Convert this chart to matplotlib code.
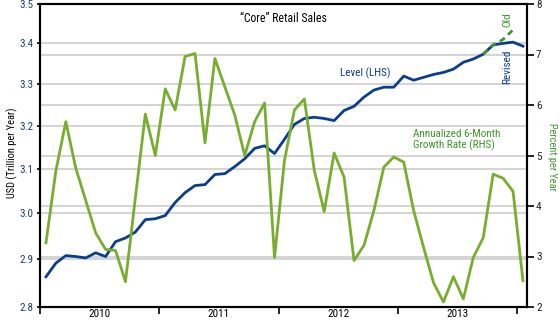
import numpy as np
import matplotlib
matplotlib.use("Agg")
import matplotlib.pyplot as plt
from matplotlib import font_manager
from matplotlib.ticker import FixedLocator, FixedFormatter, NullLocator, NullFormatter

# monthly values, Jan 2010 .. Jan 2014
level = [2.863, 2.892, 2.908, 2.906, 2.903, 2.914, 2.906, 2.938, 2.946, 2.959,
         2.986, 2.988, 2.995, 3.024, 3.046, 3.062, 3.064, 3.087, 3.089, 3.105,
         3.123, 3.147, 3.153, 3.135, 3.168, 3.203, 3.217, 3.220, 3.217, 3.212,
         3.236, 3.246, 3.268, 3.285, 3.292, 3.292, 3.319, 3.309, 3.316, 3.323,
         3.328, 3.336, 3.353, 3.361, 3.373, 3.396, 3.400, 3.403, 3.393]
growth = [3.27, 4.70, 5.67, 4.75, 4.11, 3.47, 3.14, 3.12, 2.50, 4.17,
          5.82, 5.00, 6.32, 5.90, 6.96, 7.02, 5.25, 6.92, 6.36, 5.80,
          5.00, 5.67, 6.04, 2.98, 4.90, 5.90, 6.12, 4.71, 3.89, 5.05,
          4.57, 2.92, 3.22, 3.91, 4.77, 4.97, 4.87, 3.91, 3.18, 2.48,
          2.10, 2.60, 2.16, 2.98, 3.37, 4.63, 4.55, 4.29, 2.52]
old_start = 44
old_level = [3.373, 3.396, 3.410, 3.434]

left_ticks = [2.8, 2.9, 3.0, 3.1, 3.2, 3.3, 3.4, 3.5]
right_ticks = [2, 3, 4, 5, 6, 7, 8]
years = [2010, 2011, 2012, 2013]

BLUE = "#0b3d8f"
GREEN = "#77ae2e"
DKGREEN = "#3f962a"
GRID = "#cdcdcd"

# condensed font if we have one
names = {f.name for f in font_manager.fontManager.ttflist}
for fam in ["Liberation Sans Narrow", "Roboto Condensed", "Open Sans Condensed", "Lato"]:
    if fam in names:
        break
plt.rcParams["font.family"] = fam

months = np.arange(len(level))
x = 2010 + (months + 0.6) / 12

fig = plt.figure(figsize=(5.6, 3.22), dpi=100)
ax = fig.add_axes([40 / 560, 1 - 307 / 322, 487 / 560, 303 / 322])
ax2 = ax.twinx()

# left axis (log)
ax.set_yscale("log")
ax.set_ylim(2.8, 3.5)
ax.yaxis.set_major_locator(FixedLocator(left_ticks))
ax.yaxis.set_major_formatter(FixedFormatter([f"{v:.1f}" for v in left_ticks]))
ax.yaxis.set_minor_locator(NullLocator())
ax.yaxis.set_minor_formatter(NullFormatter())

ax2.set_ylim(2, 8)
ax2.yaxis.set_major_locator(FixedLocator(right_ticks))

ax.set_xlim(2010, 2010 + 487 / 119.25)
ax.xaxis.set_major_locator(FixedLocator(years + [2014]))
ax.xaxis.set_major_formatter(NullFormatter())
ax.xaxis.set_minor_locator(FixedLocator([y + 0.5 for y in years]))
ax.xaxis.set_minor_formatter(FixedFormatter([str(y) for y in years]))

# gridlines for both scales, all under the lines
for v in left_ticks[1:-1]:
    ax.axhline(v, color=GRID, lw=1.2, zorder=0.5)
for v in right_ticks[1:-1]:
    f = (v - 2) / 6
    ax.plot([0, 1], [f, f], transform=ax.transAxes, color=GRID, lw=1.2, zorder=0.5)

ax.plot(x, level, color=BLUE, lw=2.0, zorder=3, solid_joinstyle="round")
ax.plot(x[old_start:old_start + len(old_level)], old_level, color=DKGREEN,
        lw=2.0, ls=(0, (2.2, 1.6)), zorder=4)
ax2.plot(x, growth, color=GREEN, lw=2.0, zorder=3, solid_joinstyle="round")

for a in (ax, ax2):
    for s in a.spines.values():
        s.set_linewidth(1.5)
        s.set_color("black")

ax.tick_params(axis="y", direction="out", length=2.5, width=1.2, pad=2.5,
               labelsize=8, labelcolor="#1c3f7c")
ax.tick_params(axis="x", which="major", direction="out", length=5, width=1.2)
ax.tick_params(axis="x", which="minor", length=0, pad=1.5, labelsize=8)
ax2.tick_params(axis="y", direction="out", length=5, width=1.2, pad=1.5,
                labelsize=8, labelcolor="#222222")

W, H = 560, 322
fig.text(12 / W, 1 - 153 / H, "USD (Trillion per Year)", rotation=90,
         ha="center", va="center", fontsize=7.5)
fig.text(552 / W, 1 - 157 / H, "Percent per Year", rotation=270,
         ha="center", va="center", fontsize=7.5, color=DKGREEN)
fig.text(283 / W, 1 - 18 / H, "\u201cCore\u201d Retail Sales",
         ha="center", va="center", fontsize=8.5)
fig.text(365 / W, 1 - 73 / H, "Level (LHS)", ha="center", va="center",
         fontsize=8, color=BLUE)
fig.text(413 / W, 1 - 140 / H, "Annualized 6-Month\nGrowth Rate (RHS)",
         ha="left", va="center", fontsize=8, color=DKGREEN, linespacing=1.05)
fig.text(507 / W, 1 - 67 / H, "Revised", rotation=90, ha="center", va="center",
         fontsize=8, color=BLUE)
fig.text(507 / W, 1 - 20 / H, "Old", rotation=90, ha="center", va="center",
         fontsize=8, color=DKGREEN)

fig.savefig("out.png", dpi=100)
